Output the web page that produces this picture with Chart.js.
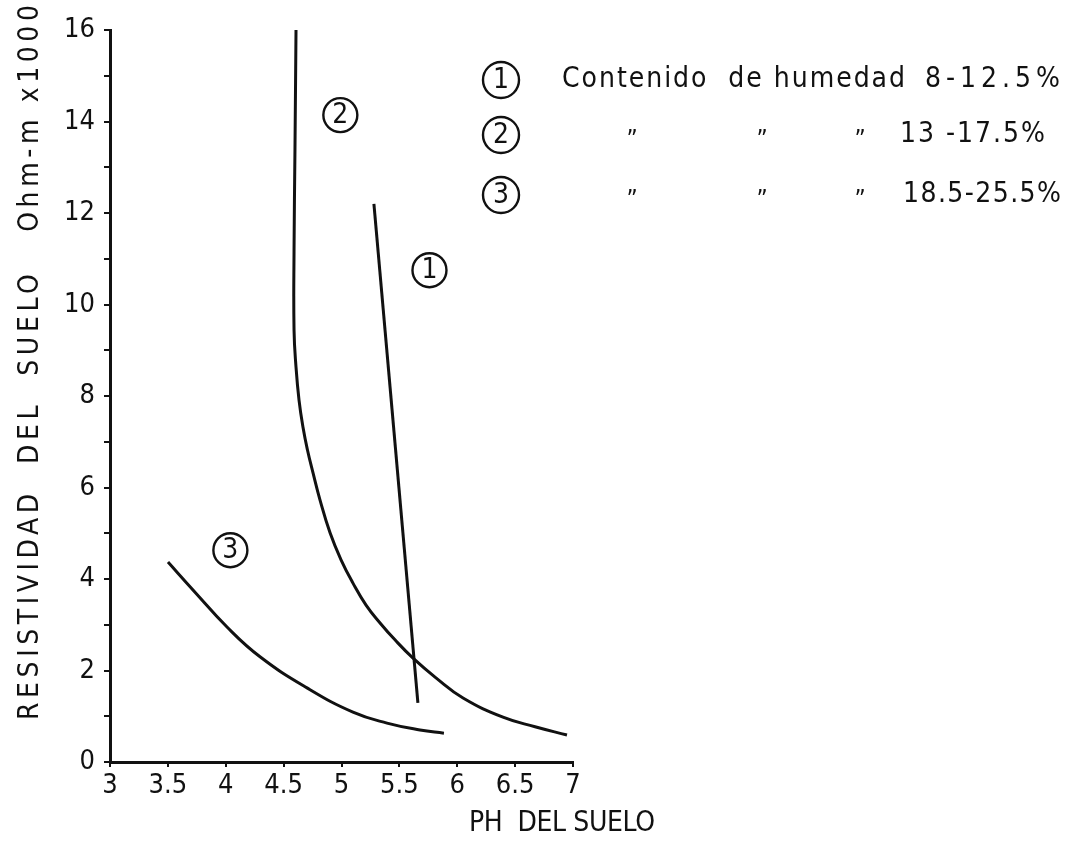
<!DOCTYPE html>
<html>
<head>
<meta charset="utf-8">
<script src="https://cdn.jsdelivr.net/npm/chart.js@4/dist/chart.umd.min.js"></script>
<style>
html,body{margin:0;padding:0;background:#fff;}
canvas{display:block;}
</style>
</head>
<body>
<canvas id="c" width="1081" height="841"></canvas>
<script>
// ---- data ----
const ph1  = [5.28, 5.66];
const res1 = [12.2, 1.29];

const ph2  = [4.607, 4.598, 4.590, 4.590, 4.607, 4.633, 4.667, 4.706, 4.754, 4.814, 4.901, 4.996, 5.099, 5.212, 5.333, 5.462, 5.618, 5.816, 6.050, 6.395, 6.672, 6.948];
const res2 = [16.0, 13.38, 11.19, 9.44, 8.63, 7.91, 7.32, 6.82, 6.32, 5.73, 5.01, 4.42, 3.91, 3.43, 3.04, 2.67, 2.27, 1.84, 1.40, 0.98, 0.77, 0.59];

const ph3  = [3.501, 3.717, 4.011, 4.296, 4.702, 5.099, 5.393, 5.678, 5.885];
const res3 = [4.37, 3.76, 2.95, 2.30, 1.62, 1.09, 0.85, 0.70, 0.63];

// curve labels (circled numbers) placed in data space
const curveLabelText = ['1', '2', '3'];
const curveLabelPh   = [5.76, 4.99, 4.04];
const curveLabelRes  = [10.75, 14.14, 4.63];

// legend
const legendNums  = ['1', '2', '3'];
const legendDitto = ['', '\u201D', '\u201D'];
const legendRange = ['8-12.5%', '13 -17.5%', '18.5-25.5%'];
const legendLead  = 'Contenido  de humedad';

const xTitle = 'PH  DEL SUELO';
const yTitle = 'RESISTIVIDAD  DEL  SUELO   Ohm-m x1000';

const FONT = '"Liberation Sans Narrow", "DejaVu Sans Condensed", "DejaVu Sans", sans-serif';

function pts(xs, ys){ return xs.map((x,i)=>({x:x, y:ys[i]})); }

function circled(ctx, cx, cy, r, t){
  ctx.save();
  ctx.beginPath();
  ctx.arc(cx, cy, r, 0, Math.PI*2);
  ctx.lineWidth = 2.4;
  ctx.strokeStyle = '#111';
  ctx.stroke();
  ctx.fillStyle = '#111';
  ctx.font = '28px ' + FONT;
  ctx.textAlign = 'center';
  ctx.textBaseline = 'middle';
  ctx.fillText(t, cx, cy + 1);
  ctx.restore();
}

function spacedText(ctx, text, x, y, width){
  const w = ctx.measureText(text).width;
  const n = text.length;
  const sp = n > 1 ? (width - w) / (n - 1) : 0;
  ctx.letterSpacing = sp + 'px';
  ctx.fillText(text, x, y);
  ctx.letterSpacing = '0px';
}

const annot = {
  id: 'annot',
  afterDraw(chart){
    const ctx = chart.ctx;
    const xs = chart.scales.x, ys = chart.scales.y;
    // circled curve labels
    for (let i = 0; i < curveLabelText.length; i++){
      circled(ctx, xs.getPixelForValue(curveLabelPh[i]), ys.getPixelForValue(curveLabelRes[i]), 17, curveLabelText[i]);
    }
    // legend
    const rows = [80, 135, 195];
    ctx.save();
    ctx.fillStyle = '#111';
    ctx.textBaseline = 'middle';
    for (let i = 0; i < legendNums.length; i++){
      circled(ctx, 501, rows[i], 18, legendNums[i]);
      ctx.font = '28px ' + FONT;
      ctx.textAlign = 'left';
      if (i === 0){
        spacedText(ctx, legendLead, 562, rows[i], 343);
        spacedText(ctx, legendRange[i], 925, rows[i], 135);
      } else {
        ctx.font = '24px ' + FONT;
        ctx.textAlign = 'center';
        ctx.fillText(legendDitto[i], 632, rows[i] + 6);
        ctx.fillText(legendDitto[i], 762, rows[i] + 6);
        ctx.fillText(legendDitto[i], 860, rows[i] + 6);
        ctx.font = '28px ' + FONT;
        ctx.textAlign = 'left';
        if (i === 1) spacedText(ctx, legendRange[i], 900, rows[i], 145);
        else spacedText(ctx, legendRange[i], 903, rows[i], 158);
      }
    }
    // x title
    ctx.font = '28px ' + FONT;
    ctx.textAlign = 'left';
    spacedText(ctx, xTitle, 469, 824, 186);
    // y title
    ctx.translate(31, 720);
    ctx.rotate(-Math.PI/2);
    ctx.textAlign = 'left';
    spacedText(ctx, yTitle, 0, 0, 715);
    ctx.restore();
  }
};

const lineStyle = {borderColor:'#111', backgroundColor:'#111', borderWidth:3, pointRadius:0, fill:false};

new Chart(document.getElementById('c'), {
  type: 'line',
  data: {
    datasets: [
      Object.assign({label:'1', data: pts(ph1, res1), tension: 0}, lineStyle),
      Object.assign({label:'2', data: pts(ph2, res2), tension: 0.45}, lineStyle),
      Object.assign({label:'3', data: pts(ph3, res3), tension: 0.45}, lineStyle)
    ]
  },
  options: {
    responsive: false,
    animation: false,
    layout: {padding: {top: 30, right: 508, left: 0, bottom: 0}},
    plugins: {legend: {display:false}, tooltip: {enabled:false}},
    scales: {
      x: {
        type: 'linear', min: 3, max: 7,
        afterFit(s){ s.height = 79; },
        ticks: {stepSize: 0.5, color:'#111', font:{family: FONT, size: 27}, padding: 3,
                callback: v => String(v)},
        grid: {drawOnChartArea:false, drawTicks:true, tickLength:5, color:'#111', lineWidth:2},
        border: {display:true, color:'#111', width:3}
      },
      y: {
        type: 'linear', min: 0, max: 16,
        afterFit(s){ s.width = 110; },
        ticks: {stepSize: 1, color:'#111', font:{family: FONT, size: 27}, padding: 9,
                callback: v => (v % 2 === 0 ? String(v) : '')},
        grid: {drawOnChartArea:false, drawTicks:true, tickLength:6, color:'#111', lineWidth:2},
        border: {display:true, color:'#111', width:3}
      }
    }
  },
  plugins: [annot]
});
</script>
</body>
</html>
